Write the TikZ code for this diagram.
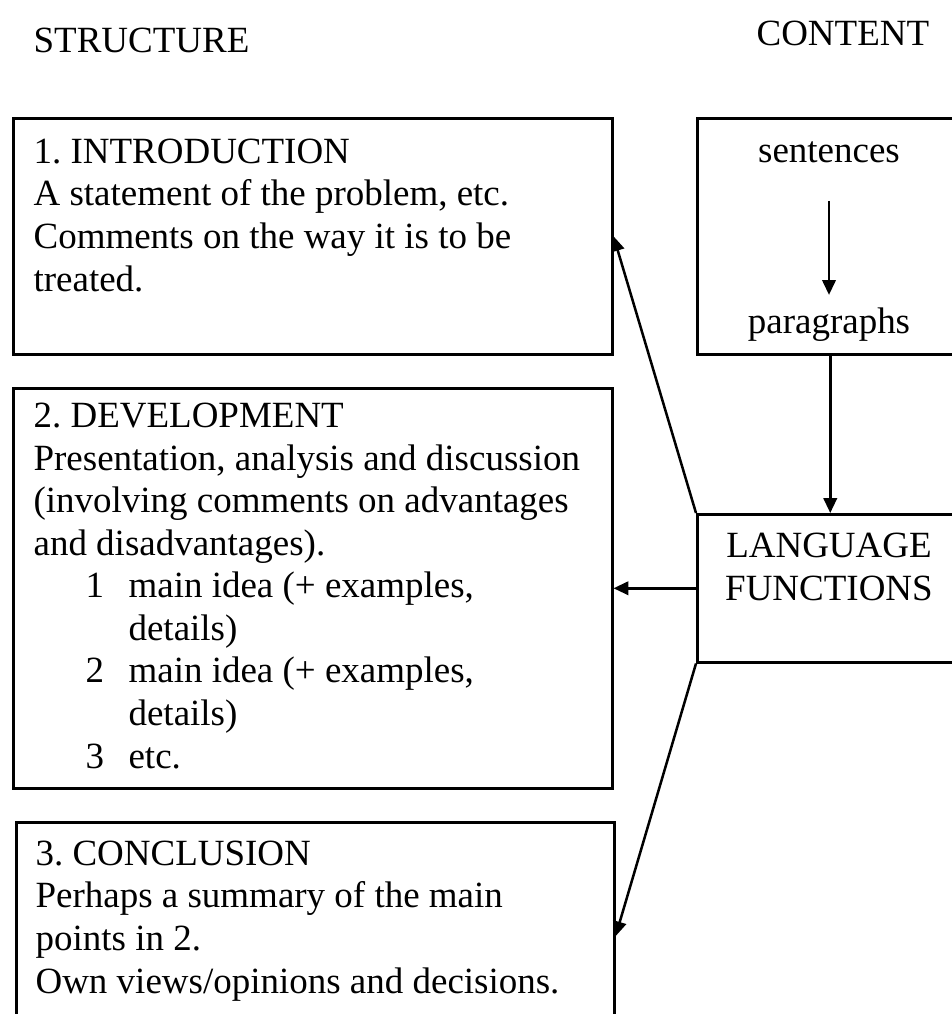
\documentclass[tikz,border=0pt]{standalone}
\usepackage{fontspec}
\setmainfont{Liberation Serif}
\usetikzlibrary{arrows.meta}
\frenchspacing
\newcommand{\pxu}{0.338pt}
\newcommand{\ideanum}[1]{\hspace*{17.6pt}\makebox[14.5pt][l]{#1}}
\newcommand{\ideagap}{\hspace*{32.1pt}}

\begin{document}
\begin{tikzpicture}[x=\pxu,y=-\pxu,font=\fontsize{12.5}{14.37}\selectfont]
\useasboundingbox (0,0) rectangle (952,1014);
\clip (0,0) rectangle (952,1014);
\begin{scope}[every node/.style={draw,line width=0.85pt,rectangle,anchor=north west,inner sep=0pt}]
    \node[minimum width={599*\pxu},minimum height={236*\pxu}] (intro) at (12,117) {};
    \node[minimum width={599*\pxu},minimum height={400*\pxu}] (devel) at (12,387) {};
    \node[minimum width={598*\pxu},minimum height={228*\pxu}] (concl) at (15,821) {};
    \node[minimum width={266*\pxu},minimum height={236*\pxu}] (content) at (696,117) {};
    \node[minimum width={266*\pxu},minimum height={148*\pxu}] (lang) at (696,513) {};
\end{scope}
% multi-line texts sit on the baseline of their last line
\begin{scope}[every node/.style={inner sep=0pt,align=left,anchor=base west}]
    \node (structhead) at (33,52) {STRUCTURE};
    \node (contenthead) at (756,45) {CONTENT};
    \node (introtext) at (33,291) {1. INTRODUCTION\\
        A statement of the problem, etc.\\
        Comments on the way it is to be\\
        treated.};
    \node (develtext) at (33,768) {2. DEVELOPMENT\\
        Presentation, analysis and discussion\\
        (involving comments on advantages\\
        and disadvantages).\\
        \ideanum{1}main idea (+ examples,\\
        \ideagap details)\\
        \ideanum{2}main idea (+ examples,\\
        \ideagap details)\\
        \ideanum{3}etc.};
    \node (concltext) at (35,993) {3. CONCLUSION\\
        Perhaps a summary of the main\\
        points in 2.\\
        Own views/opinions and decisions.};
    \node[anchor=base,inner sep=4pt] (sent) at (829,162) {sentences};
    \node[anchor=base,inner sep=4pt] (para) at (829,333) {paragraphs};
    \node[anchor=base,align=center] (langtext) at (829,600) {LANGUAGE\\FUNCTIONS};
\end{scope}
\begin{scope}[every edge/.style={draw=black,line width=0.85pt,-{Triangle[length=5pt,width=4.5pt]}}]
    \path (sent) edge[shorten <=8.8pt] (para);
    \path (content.south) edge (lang.north);
    \path (lang.west) edge (devel.east);
    \path (lang.north west) edge (intro.east);
    \path (lang.south west) edge (concl.east);
\end{scope}
\end{tikzpicture}
\end{document}
